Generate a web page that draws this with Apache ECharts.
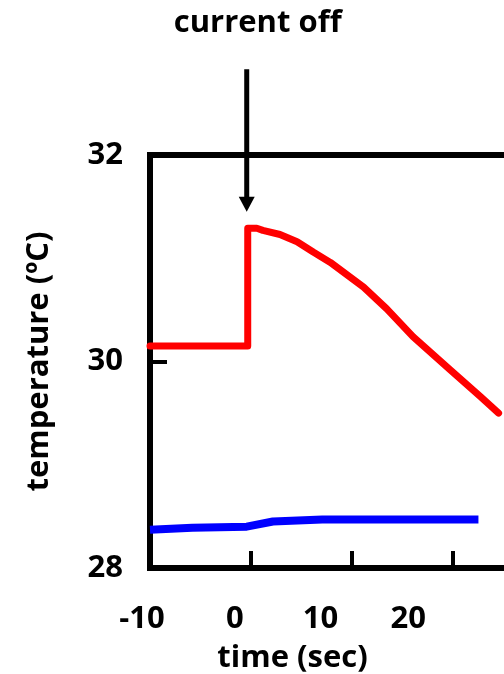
<!DOCTYPE html>
<html>
<head>
<meta charset="utf-8">
<script src="https://cdn.jsdelivr.net/npm/echarts@6/dist/echarts.min.js"></script>
<style>
  html, body { margin: 0; padding: 0; background: #fff; }
  #chart { width: 504px; height: 674px; }
</style>
</head>
<body>
<div id="chart"></div>
<script>
const FONT = "'Open Sans'"

// red trace: heated spot, blue trace: reference
const redTime = [-10, -0.3, -0.3, 0.6, 1.2, 2.9, 4.6, 6.2, 7.9, 11.2, 13.5, 16.1, 19.8, 22.8, 24.6]
const redTemp = [30.15, 30.15, 31.29, 31.29, 31.27, 31.23, 31.16, 31.06, 30.96, 30.72, 30.51, 30.24, 29.92, 29.66, 29.5]
const blueTime = [-10, -5.8, -0.4, 2.2, 7.1, 22.6]
const blueTemp = [28.37, 28.39, 28.4, 28.45, 28.47, 28.47]

const yTicks = [28, 30, 32]
const xTickLabels = [-10, 0, 10, 20]
const currentOffTime = -0.4
const arrowFrom = 32.83
const arrowTo = 31.45

const zip = (xs, ys) => xs.map((x, i) => [x, ys[i]])

const chart = echarts.init(document.getElementById('chart'))

const boldText = (size) => ({ color: '#000', fontFamily: FONT, fontWeight: 'bold', fontSize: size })
const blackLine = { color: '#000', width: 6 }

// the original's time labels drift left of their ticks; right padding shifts each one
const labelPadRight = [16, 32, 62, 88]
const labelRich = {}
labelPadRight.forEach((p, i) => {
  labelRich['s' + i] = { ...boldText(31), padding: [0, p, 0, 0] }
})

chart.setOption({
  backgroundColor: '#fff',
  animation: false,
  grid: {
    // plot box, its right side runs past the picture edge
    left: 150, top: 155, bottom: 106, right: -49, outerBoundsMode: 'none',
    show: true, borderColor: '#000', borderWidth: 6,
  },
  xAxis: {
    type: 'value', min: -10, max: 30, interval: 10,
    axisLine: { show: true, onZero: false, lineStyle: blackLine },
    axisTick: { show: true, inside: true, length: 17, lineStyle: { color: '#000', width: 4 } },
    axisLabel: {
      ...boldText(31),
      margin: 36,
      formatter: (v) => {
        const i = xTickLabels.indexOf(v)
        return i < 0 ? '' : `{s${i}|${v}}`
      },
      rich: labelRich,
    },
    splitLine: { show: false },
    name: 'time (sec)',
    nameLocation: 'middle',
    nameGap: 75,
    nameTextStyle: { ...boldText(31), padding: [0, 118, 0, 0] },
  },
  yAxis: {
    type: 'value', min: yTicks[0], max: yTicks[yTicks.length - 1], interval: 2,
    axisLine: { show: true, onZero: false, lineStyle: blackLine },
    axisTick: { show: true, inside: true, length: 17, lineStyle: { color: '#000', width: 4 } },
    axisLabel: { ...boldText(31), margin: 27 },
    splitLine: { show: false },
    name: 'temperature (ºC)',
    nameLocation: 'middle',
    nameGap: 95,
    nameTextStyle: boldText(31),
  },
  series: [
    {
      type: 'line',
      data: zip(redTime, redTemp),
      showSymbol: false,
      lineStyle: { color: '#ff0000', width: 7, join: 'round', cap: 'round' },
    },
    {
      type: 'line',
      data: zip(blueTime, blueTemp),
      showSymbol: false,
      lineStyle: { color: '#0000ff', width: 8, join: 'round' },
    },
  ],
})

// "current off" arrow, placed from data values
const arrowStart = chart.convertToPixel({ gridIndex: 0 }, [currentOffTime, arrowFrom])
const arrowTip = chart.convertToPixel({ gridIndex: 0 }, [currentOffTime, arrowTo])
chart.setOption({
  graphic: [
    { type: 'line', shape: { x1: arrowStart[0], y1: arrowStart[1], x2: arrowTip[0], y2: arrowTip[1] - 12 }, style: { stroke: '#000', lineWidth: 5 } },
    { type: 'polygon', shape: { points: [[arrowTip[0] - 8, arrowTip[1] - 15], [arrowTip[0] + 8, arrowTip[1] - 15], [arrowTip[0], arrowTip[1]]] }, style: { fill: '#000' } },
    { type: 'text', x: arrowTip[0] + 11, y: 23, style: { text: 'current off', fill: '#000', font: 'bold 31px ' + FONT, align: 'center', verticalAlign: 'middle' } },
  ],
})
</script>
</body>
</html>
